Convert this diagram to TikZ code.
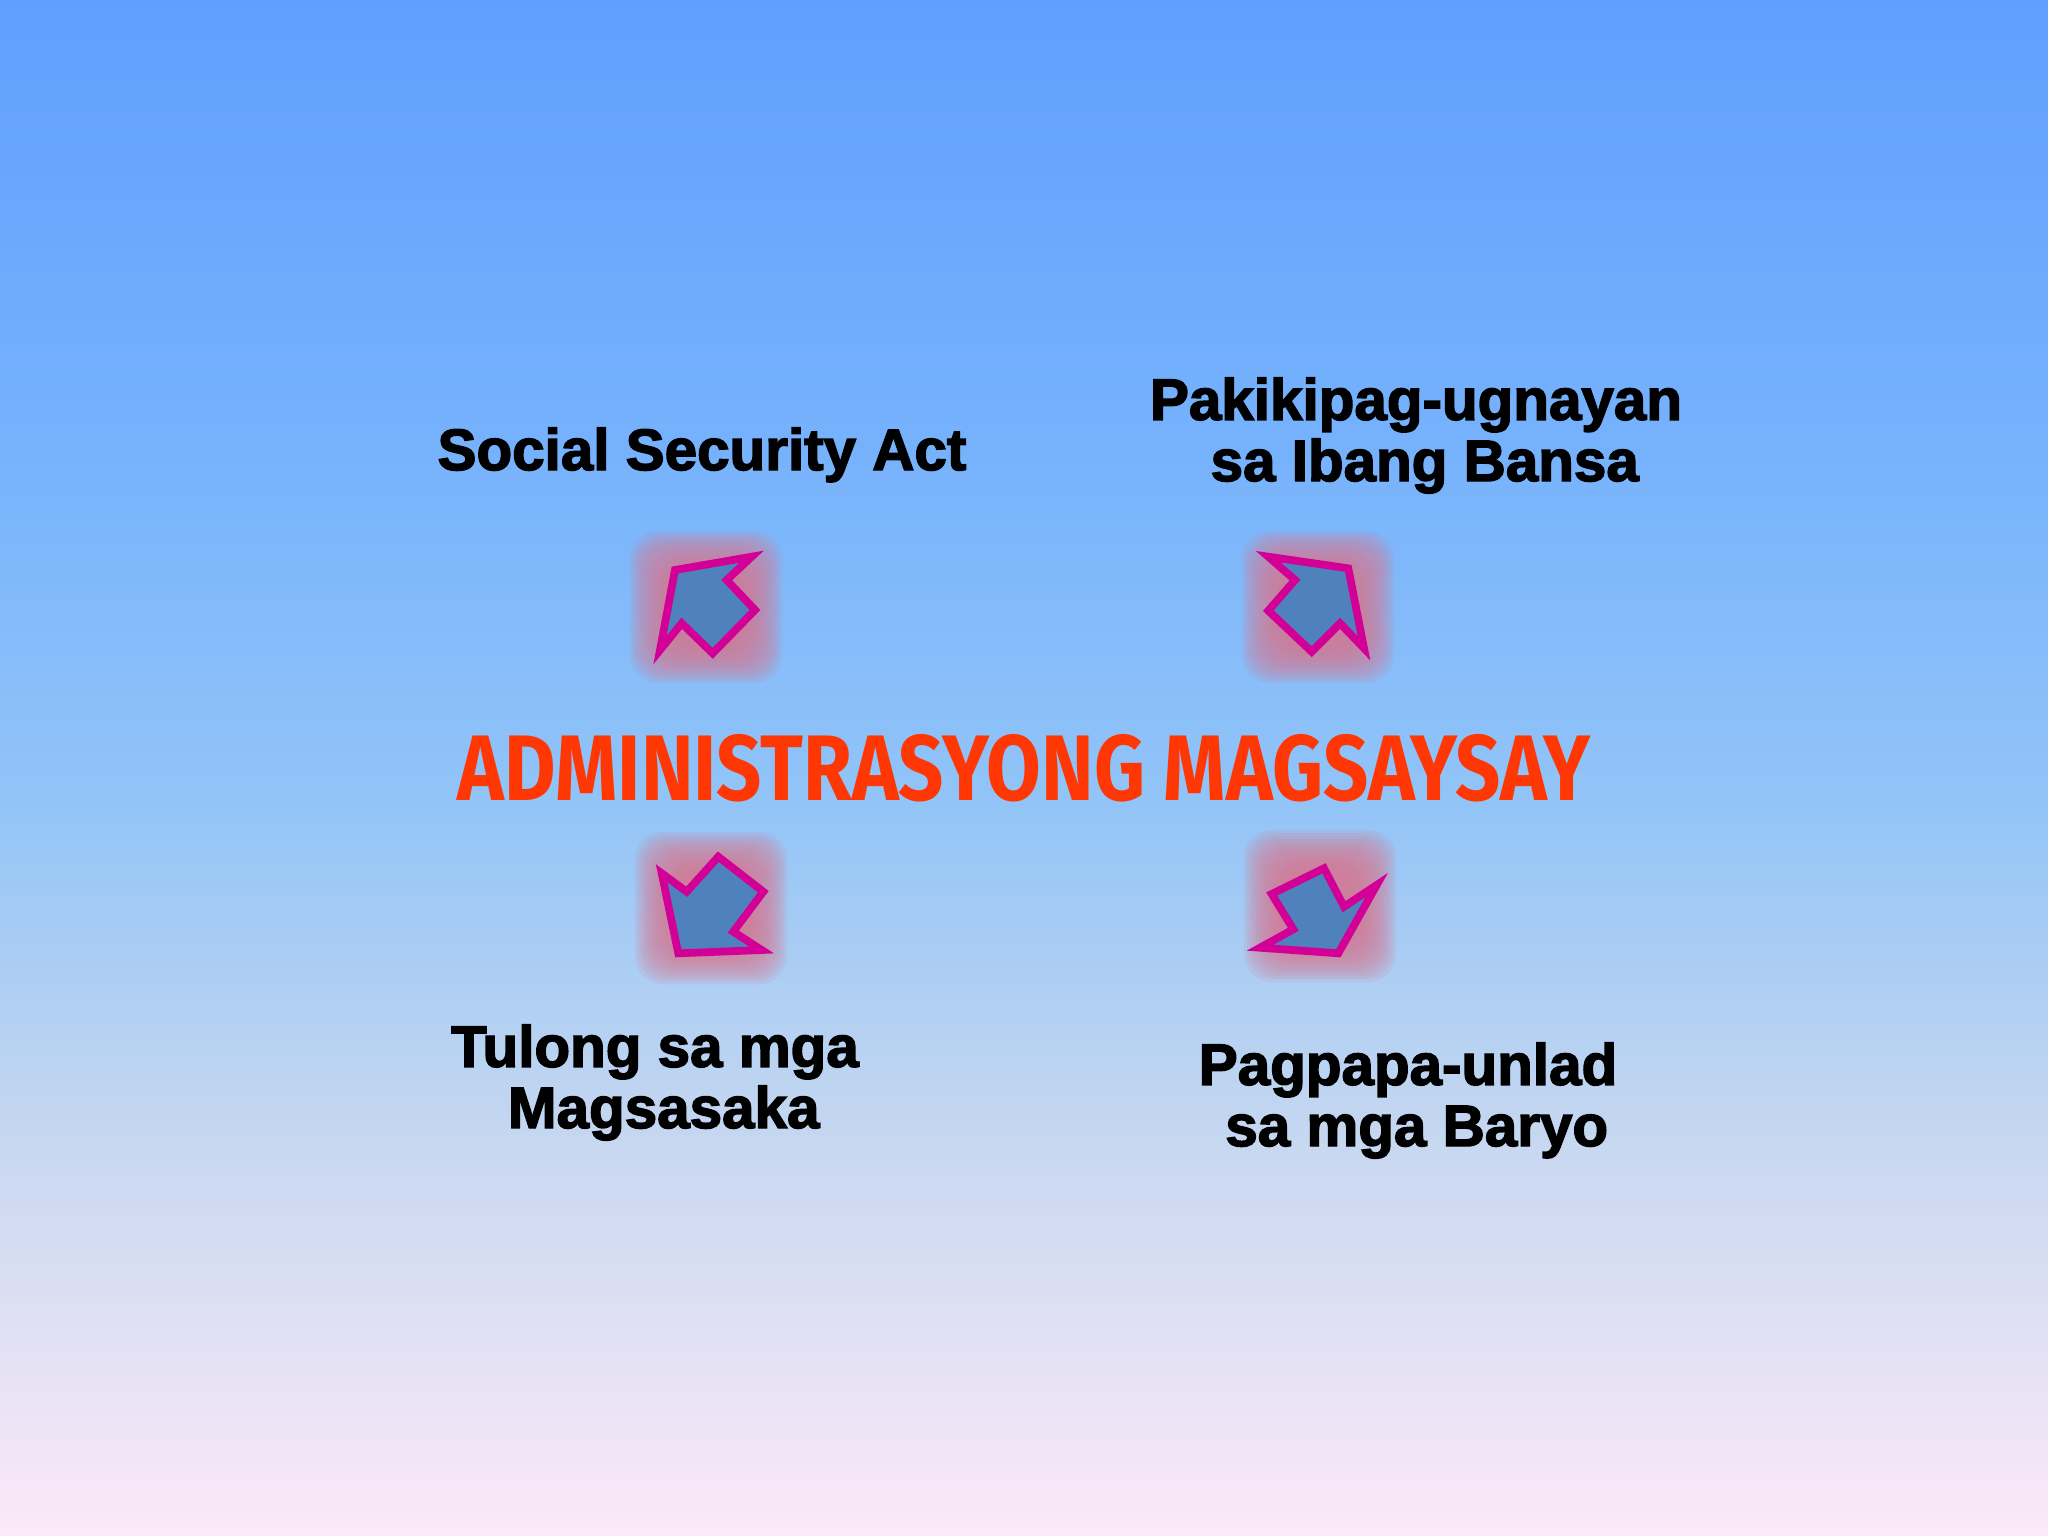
\documentclass[tikz,border=0pt]{standalone}
\usepackage{fontspec}
\setmainfont{Liberation Sans}
\newfontfamily\heavy{Liberation Sans}[BoldFeatures={FakeBold=2.5}]
\newfontfamily\titlefont{Fira Sans}
\begin{document}
\begin{tikzpicture}[x=0.01cm,y=-0.01cm,
  lbl/.style={font=\heavy\bfseries\fontsize{16.6}{17.4}\selectfont, text=black, align=center, inner sep=0pt},
  arrowshape/.style={fill=arrowfill, draw=arrowline, line width=2.2pt, line join=miter},
  glowbox/.style={fill=glowc, fill opacity=0.14, rounded corners=8pt}]
\definecolor{bg0}{RGB}{96,159,255}
\definecolor{bg1}{RGB}{118,178,252}
\definecolor{bg2}{RGB}{146,196,247}
\definecolor{bg3}{RGB}{200,216,240}
\definecolor{bg4}{RGB}{252,233,248}
\definecolor{arrowfill}{RGB}{79,129,189}
\definecolor{arrowline}{RGB}{210,0,150}
\definecolor{glowc}{RGB}{215,120,145}
\definecolor{titlec}{RGB}{255,55,5}
\useasboundingbox (0,0) rectangle (2048,1536);
\shade[top color=bg0,bottom color=bg1] (0,0) rectangle (2048,451);
\shade[top color=bg1,bottom color=bg2] (0,450) rectangle (2048,801);
\shade[top color=bg2,bottom color=bg3] (0,800) rectangle (2048,1151);
\shade[top color=bg3,bottom color=bg4] (0,1150) rectangle (2048,1536);
% glows
\foreach \cx/\cy in {706/607, 1318/607, 711/908, 1320/906}{
  \foreach \s in {40,43,...,76}{
    \fill[glowbox] (\cx-\s,\cy-\s) rectangle (\cx+\s,\cy+\s);
  }
}
% arrows
\draw[arrowshape] (675,570) -- (751.7,556.7) -- (726.7,580) -- (755,610) -- (712.7,653.3) -- (681.7,623.3) -- (660,650) -- cycle;
\draw[arrowshape] (1268.3,556.7) -- (1348.3,568.3) -- (1364,648.3) -- (1340,623.3) -- (1311.7,651.7) -- (1268.3,610.7) -- (1295,580) -- cycle;
\draw[arrowshape] (661.7,873.3) -- (686.7,891.7) -- (718.3,856.7) -- (763.3,891.7) -- (733.3,931.7) -- (761.7,950) -- (678.3,953.3) -- cycle;
\draw[arrowshape] (1271.7,894) -- (1324,868.3) -- (1344,906.7) -- (1376.7,885) -- (1338.3,953.3) -- (1260,947.7) -- (1293.3,929.3) -- cycle;
% title
\node[anchor=base, inner sep=0pt, text=titlec] (title) at (1024,800)
  {\resizebox{322pt}{18.8pt}{\titlefont\bfseries ADMINISTRASYONG MAGSAYSAY}};
% labels
\node[lbl, anchor=base] (ssa) at (702,470) {Social Security Act};
\node[lbl, anchor=base] (pak) at (1416,481) {Pakikipag-ugnayan\\\hspace*{0.3em}sa Ibang Bansa};
\node[lbl, anchor=base] (tul) at (655,1128) {Tulong sa mga\\\hspace*{0.3em}Magsasaka};
\node[lbl, anchor=base] (pag) at (1408,1146) {Pagpapa-unlad\\\hspace*{0.3em}sa mga Baryo};
\end{tikzpicture}
\end{document}
